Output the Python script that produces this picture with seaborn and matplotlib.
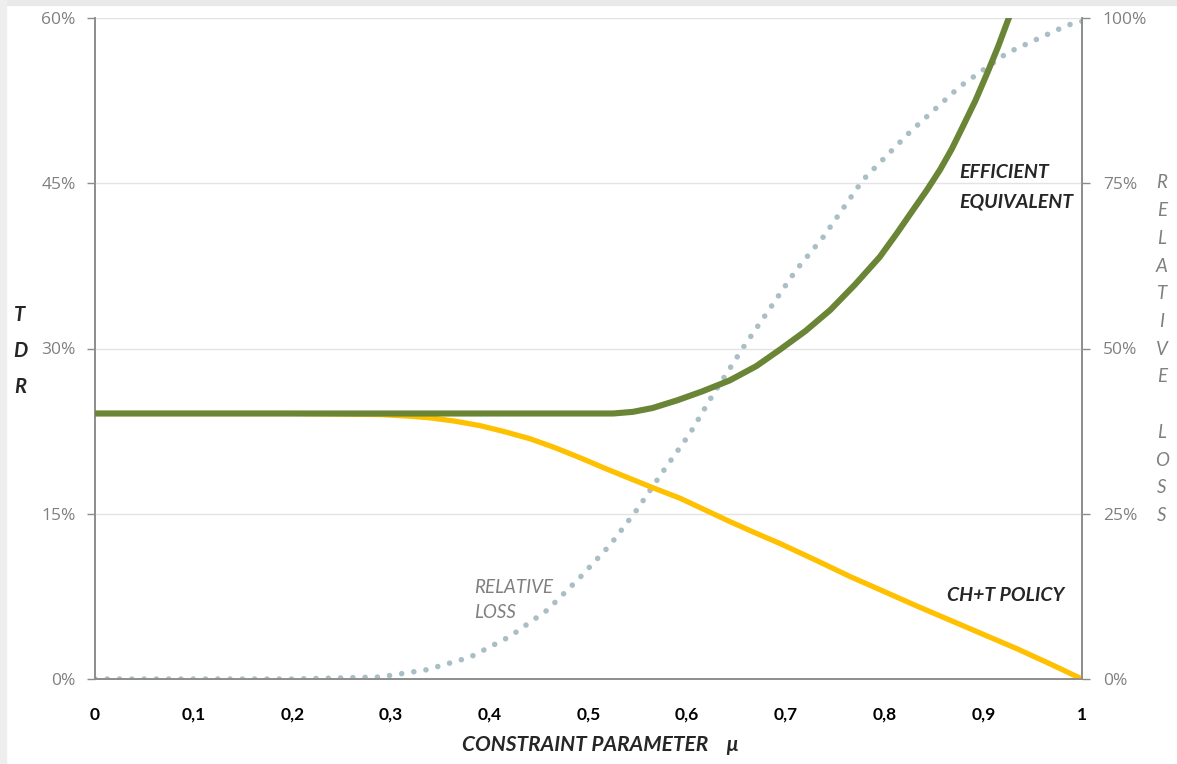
import matplotlib
matplotlib.use("Agg")
import matplotlib.pyplot as plt
import seaborn as sns
import pandas as pd
from matplotlib.patches import Rectangle

# data (TDR in %, relative loss in %)
eff_mu = [0, 0.1, 0.2, 0.3, 0.4, 0.5, 0.525, 0.545, 0.565, 0.59, 0.615, 0.643, 0.67, 0.694,
          0.72, 0.745, 0.77, 0.795, 0.812, 0.829, 0.843, 0.856, 0.868, 0.879, 0.892,
          0.904, 0.915, 0.925, 0.935]
eff_tdr = [24.1, 24.1, 24.1, 24.1, 24.1, 24.1, 24.1, 24.25, 24.6, 25.3, 26.1, 27.1, 28.4, 29.9,
           31.6, 33.5, 35.8, 38.3, 40.4, 42.6, 44.4, 46.2, 48.1, 50.1, 52.5,
           55.0, 57.4, 59.8, 62.0]

pol_mu = [0, 0.1, 0.2, 0.29, 0.32, 0.34, 0.365, 0.39, 0.415, 0.441, 0.466, 0.491, 0.516,
          0.542, 0.567, 0.593, 0.618, 0.643, 0.668, 0.694, 0.73, 0.765, 0.798, 0.832,
          0.866, 0.9, 0.934, 0.967, 1.0]
pol_tdr = [24.1, 24.1, 24.1, 24.0, 23.85, 23.7, 23.4, 23.0, 22.45, 21.8, 21.0, 20.1, 19.15,
           18.2, 17.3, 16.4, 15.35, 14.3, 13.3, 12.3, 10.8, 9.3, 8.0, 6.65,
           5.35, 4.05, 2.75, 1.4, 0.0]

loss_mu = [0, 0.1, 0.2, 0.289, 0.336, 0.38, 0.42, 0.458, 0.491, 0.522, 0.549, 0.575,
           0.603, 0.626, 0.657, 0.684, 0.71, 0.738, 0.778, 0.826, 0.876, 0.924, 0.985, 1.0]
loss_pct = [0, 0, 0, 0.3, 1.4, 3.3, 6.4, 10.4, 15.3, 20.3, 25.6, 31.3,
            37.2, 43.0, 50.2, 56.1, 61.8, 66.9, 75.5, 82.8, 89.6, 94.7, 98.9, 99.5]

x_ticks = [0, 0.1, 0.2, 0.3, 0.4, 0.5, 0.6, 0.7, 0.8, 0.9, 1.0]
x_labels = ["0", "0,1", "0,2", "0,3", "0,4", "0,5", "0,6", "0,7", "0,8", "0,9", "1"]
left_ticks = [0, 15, 30, 45, 60]
left_labels = ["0%", "15%", "30%", "45%", "60%"]
right_ticks = [0, 25, 50, 75, 100]
right_labels = ["0%", "25%", "50%", "75%", "100%"]

eff = pd.DataFrame({"mu": eff_mu, "tdr": eff_tdr})
pol = pd.DataFrame({"mu": pol_mu, "tdr": pol_tdr})
loss = pd.DataFrame({"mu": loss_mu, "loss": loss_pct})

sns.set_style("white")
plt.rcParams["font.family"] = ["Lato", "DejaVu Sans"]
TICKFONT = ["Open Sans", "DejaVu Sans"]

GREEN = "#6a8535"
YELLOW = "#ffc000"
DOTS = "#a9bec5"
GREY = "#808080"
AXC = "#8c8c8c"

fig = plt.figure(figsize=(11.77, 7.64), dpi=100)
# faint frame shadow top/left like the screenshot
fig.patches.append(Rectangle((0, 1 - 5 / 764), 1, 5 / 764, transform=fig.transFigure,
                             color="#e9e9e9", zorder=-1))
fig.patches.append(Rectangle((0, 0), 6 / 1177, 1, transform=fig.transFigure,
                             color="#eeeeee", zorder=-1))

ax = fig.add_axes([95 / 1177, 85 / 764, 987 / 1177, 661 / 764])
ax2 = ax.twinx()

# right axis: relative loss (dotted)
sns.lineplot(data=loss, x="mu", y="loss", ax=ax2, color=DOTS, lw=4.0,
             dashes=False, zorder=1)
ax2.lines[0].set_linestyle((0, (0.01, 2.2)))
ax2.lines[0].set_dash_capstyle("round")

# left axis: TDR
sns.lineplot(data=pol, x="mu", y="tdr", ax=ax, color=YELLOW, lw=3.8, zorder=2)
sns.lineplot(data=eff, x="mu", y="tdr", ax=ax, color=GREEN, lw=4.4, zorder=3)

ax.set_zorder(ax2.get_zorder() + 1)
ax.patch.set_visible(False)

ax.set_xlim(0, 1)
ax.set_ylim(0, 60)
ax2.set_ylim(0, 100)

ax.set_xticks(x_ticks)
ax.set_xticklabels(x_labels, fontsize=12.5, fontweight="bold", color="black")
ax.set_yticks(left_ticks)
ax.set_yticklabels(left_labels, fontsize=12.5, color=GREY, family=TICKFONT)
ax2.set_yticks(right_ticks)
ax2.set_yticklabels(right_labels, fontsize=12.5, color=GREY, family=TICKFONT)

ax.yaxis.grid(True, color="#e3e3e3", lw=1)
ax.tick_params(axis="x", direction="out", length=5, width=1, color=AXC, pad=15)
ax.tick_params(axis="y", direction="out", length=6, width=1, color=AXC, pad=8)
ax2.tick_params(axis="y", direction="out", length=6, width=1, color=AXC, pad=9)

for a in (ax, ax2):
    a.spines["top"].set_visible(False)
    for s in ("left", "right", "bottom"):
        a.spines[s].set_color(AXC)
        a.spines[s].set_linewidth(1.2)
    a.set_xlabel("")
    a.set_ylabel("")

fig.text(600 / 1177, 1 - 745 / 764, "CONSTRAINT PARAMETER    \u03bc",
         ha="center", va="center", fontsize=15, fontweight="bold", style="italic")

# left axis title, stacked letters
for i, ch in enumerate("TDR"):
    fig.text(20 / 1177, 1 - (315 + i * 36) / 764, ch, ha="center", va="center",
             fontsize=14.5, fontweight="bold", style="italic")

# right axis title, stacked letters
for i, ch in enumerate("RELATIVE LOSS"):
    if ch == " ":
        continue
    fig.text(1162 / 1177, 1 - (183 + i * 27.7) / 764, ch, ha="center", va="center",
             fontsize=13.5, style="italic", color=GREY)

ax.text(0.876, 46.0, "EFFICIENT", fontsize=14, fontweight="bold", style="italic",
        va="center", ha="left")
ax.text(0.876, 43.3, "EQUIVALENT", fontsize=14, fontweight="bold", style="italic",
        va="center", ha="left")
ax.text(0.863, 7.6, "CH+T POLICY", fontsize=14, fontweight="bold", style="italic",
        va="center", ha="left")
ax.text(0.384, 8.3, "RELATIVE", fontsize=13.5, style="italic", color=GREY,
        va="center", ha="left")
ax.text(0.384, 6.0, "LOSS", fontsize=13.5, style="italic", color=GREY,
        va="center", ha="left")

fig.savefig("out.png", dpi=100)
